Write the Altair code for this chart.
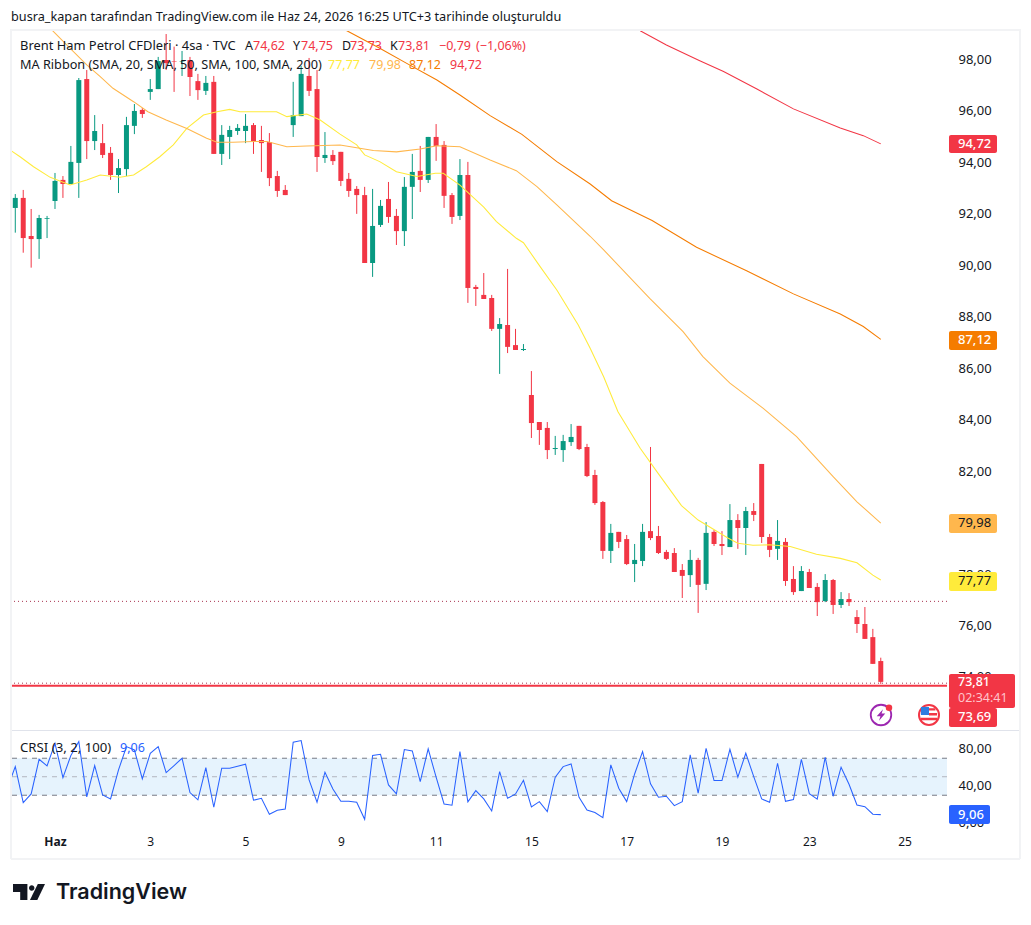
import altair as alt
import pandas as pd

FONT = "Noto Sans"
UP, DOWN = "#089981", "#F23645"
INK = "#131722"

opens = [92.23,92.62,91.14,91.02,91.81,92.50,93.32,93.16,93.98,97.24,94.83,94.75,94.37,93.51,93.74,95.42,96.04,96.74,96.85,97.98,
 97.94,97.92,97.98,97.16,96.78,97.13,94.33,94.99,95.22,95.22,95.45,94.87,94.79,93.47,92.93,95.45,95.80,97.36,96.85,94.17,
 94.29,94.41,93.36,92.97,92.73,90.09,91.57,92.58,91.92,91.33,93.05,93.67,93.32,94.99,94.68,92.73,91.92,93.51,89.16,88.85,
 88.73,87.53,87.68,86.90,86.71,84.96,83.91,83.68,82.86,82.82,83.13,83.76,82.94,81.85,80.80,78.90,79.64,79.36,78.39,78.51,
 79.67,79.48,78.86,78.82,78.16,77.96,78.55,77.62,79.64,79.17,79.05,80.10,79.79,80.45,82.28,79.44,78.98,79.25,77.81,77.34,
 78.08,77.50,76.95,77.77,76.80,77.03,76.33,76.06,75.55,74.62]
highs = [92.77,92.93,92.19,91.96,91.92,93.59,93.47,94.64,97.28,97.59,95.84,95.49,94.60,94.13,95.77,96.27,96.11,97.24,98.10,98.99,
 98.50,98.33,98.10,97.44,97.36,97.36,95.45,95.42,95.49,95.88,95.53,95.42,95.14,93.67,93.12,97.13,97.75,98.06,97.59,95.18,
 94.48,94.41,93.59,93.08,93.05,92.97,92.54,93.24,92.19,93.43,94.33,94.64,94.99,95.49,94.83,92.81,94.13,94.02,89.24,89.70,
 88.85,87.95,89.86,87.53,86.94,85.89,83.91,83.91,83.37,83.41,83.83,83.76,83.06,82.05,80.84,79.95,79.64,79.52,79.17,79.95,
 82.94,79.87,78.94,79.01,78.39,78.94,78.63,80.02,79.71,79.67,80.72,80.33,80.61,80.76,82.28,79.56,80.10,79.40,78.31,78.31,
 78.20,77.65,78.00,77.81,77.30,77.26,76.60,76.72,75.87,74.75]
lows = [91.27,90.49,89.91,90.25,91.06,92.19,92.62,93.16,92.62,94.13,94.48,94.17,93.32,92.81,93.47,95.10,95.73,96.43,96.85,97.59,
 96.74,97.36,96.58,96.43,96.62,94.33,93.90,94.13,95.07,94.75,94.33,93.63,93.08,92.66,92.73,94.99,95.80,96.58,93.63,93.98,
 93.90,93.08,92.66,92.00,90.09,89.55,91.49,91.65,90.79,90.75,91.80,92.85,93.20,94.06,92.23,91.61,91.76,88.54,88.42,88.69,
 87.45,85.78,86.59,86.71,86.67,83.29,83.02,82.47,82.63,82.36,82.98,82.82,81.77,80.69,78.59,78.43,79.01,78.35,77.69,78.31,
 79.32,78.78,78.55,78.08,77.07,77.50,76.49,77.38,79.09,78.74,79.05,78.98,78.74,80.06,79.21,78.66,78.55,77.54,77.19,77.34,
 77.46,76.37,76.91,76.45,76.68,76.76,75.71,75.48,74.51,73.73]
closes = [92.62,91.06,91.02,91.84,91.84,93.28,93.16,94.02,97.20,94.83,95.22,94.29,93.51,93.78,95.45,96.00,95.88,96.85,97.94,97.86,
 97.92,97.94,97.32,96.81,97.09,94.33,95.07,95.26,95.34,95.42,94.83,94.75,93.39,92.89,92.73,95.84,97.44,96.78,94.21,94.29,
 94.05,93.28,92.89,92.73,90.09,91.53,92.31,91.88,91.33,93.05,93.63,93.32,94.99,94.64,92.70,91.88,93.51,89.12,89.08,88.69,
 87.53,87.72,86.83,86.71,86.75,83.87,83.60,82.82,82.90,83.17,83.33,82.86,81.81,80.76,78.90,79.60,79.25,78.39,78.55,79.64,
 79.40,78.82,78.59,78.08,77.93,78.55,77.58,79.60,79.17,79.09,80.10,79.79,80.45,80.30,79.44,78.94,79.29,77.73,77.30,78.12,
 77.46,76.91,77.77,76.80,77.03,76.91,76.06,75.48,74.51,73.81]

crsi = [61.0,22.1,31.4,68.9,61.7,86.2,49.1,72.9,88.0,28.2,62.1,30.4,26.0,57.4,82.6,79.0,47.6,75.4,82.6,54.5,
 62.1,70.0,32.9,25.0,59.9,17.0,59.2,59.2,61.3,63.5,24.6,26.7,9.5,13.8,15.2,87.3,89.1,46.6,22.4,54.9,
 36.8,23.5,23.5,22.4,4.0,72.9,74.3,41.2,31.4,79.4,77.9,44.8,80.1,49.5,20.6,19.2,77.2,22.8,35.0,26.0,
 13.0,55.6,26.7,31.4,46.2,17.4,23.1,12.3,49.5,61.0,63.9,27.8,14.1,11.3,5.8,62.8,37.6,23.1,53.0,77.2,
 42.3,27.8,28.9,18.8,23.1,73.6,32.2,80.8,45.9,45.9,79.7,49.5,75.4,50.2,26.0,22.4,64.6,23.5,25.3,68.9,
 31.8,25.7,71.1,28.9,60.3,41.9,19.5,17.7,9.5,9.06]
crsi_before = 37.5

sma20_i = [-0.45,0.6,2.3,4.4,6.9,9,10.7,13.2,14.9,16.5,18.2,19.9,21.6,23.7,25.4,27,28.3,30.8,32.9,34.2,36.7,38.4,40.9,43,44,45.9,48,50.6,52.9,53.9,56,59,60.6,63.1,64,66.1,68.2,70.9,72.4,74.1,75.9,78.7,80.8,83.9,86,89.8,91,92.9,95,97.6,100.9,103.9,106,108,109]
sma20_v = [94.44,94.22,93.83,93.42,93.12,93.32,93.51,93.42,93.51,93.83,94.22,94.68,95.32,95.84,95.97,96.06,95.97,95.97,95.97,95.78,95.88,95.65,95.10,94.68,94.29,94.03,93.64,93.45,93.58,93.58,93.12,92.26,91.70,91.05,90.88,89.95,89.04,87.68,86.78,85.67,84.31,82.89,81.98,80.66,80.10,79.39,79.20,79.12,79.14,79.07,78.77,78.61,78.44,77.96,77.77]
sma50_i = [4.6,6.5,9,10.7,12.3,14.9,16.7,19,21.6,24.1,25.4,27.4,30,31.7,34.2,36.7,40.9,45.1,48,51,53.1,56,59.8,63.1,65.7,68.2,72.4,74.1,79.9,84.1,86.6,90,94.2,98.4,103,106,109]
sma50_v = [99.15,98.56,97.79,97.33,96.88,96.36,95.97,95.65,95.32,94.94,94.78,94.78,94.81,94.81,94.61,94.64,94.68,94.46,94.41,94.52,94.65,94.61,94.09,93.68,93.06,92.35,91.13,90.60,88.72,87.42,86.45,85.42,84.44,83.34,81.79,80.81,79.98]
sma100_i = [41.7,45.9,49.3,53.1,56,59.8,63.8,68.2,72.4,75.1,80.2,85.8,92.1,98,103.9,106.8,109]
sma100_v = [99.13,98.44,97.85,97.20,96.62,95.82,95.09,94.03,93.16,92.51,91.74,90.70,89.79,88.89,88.11,87.62,87.12]
sma200_i = [78.7,82,86.2,89.2,93.4,98,103.9,106.8,109]
sma200_v = [99.12,98.56,97.95,97.53,96.85,96.08,95.34,95.04,94.72]

price_ticks = [98,96,94,92,90,88,86,84,82,80,78,76,74]
crsi_ticks = [80,40,0]
day_ticks = [5,17,29,41,53,65,77,89,100,112]
day_labels = ["Haz","3","5","9","11","15","17","19","23","25"]

prev_high_line = 76.94
close_line = 73.76
last_line = 73.66

df = pd.DataFrame({"i": range(len(opens)), "o": opens, "h": highs, "l": lows, "c": closes})
df["top"] = df[["o", "c"]].max(axis=1)
df["bot"] = df[["o", "c"]].min(axis=1)
df["dir"] = ["up" if c >= o else "down" for o, c in zip(opens, closes)]
crsi_df = pd.DataFrame({"i": [-1] + list(range(len(crsi))), "v": [crsi_before] + crsi})

W, H = 936, 800
xs = alt.Scale(domain=[-0.54, 117.34], range=[0, W], nice=False, padding=0)
ps = alt.Scale(domain=[71.94, 99.185], range=[701, 0], nice=False, zero=False)
cs = alt.Scale(domain=[-6.5, 99.46], range=[800, 702], nice=False, zero=False)
comma = "replace(format(datum.value,'.2f'),'.',',')"
x_axis = alt.Axis(
    values=day_ticks, orient="bottom", grid=False, ticks=False, domain=False, labelPadding=7, labelFont=FONT,
    labelFontSize=12, labelColor=INK, title=None, labelOverlap=False, labelFlush=False,
    labelFontWeight=alt.expr("datum.value==5?'bold':'normal'"),
    labelExpr=f"{day_labels}[indexof({day_ticks},datum.value)]")
price_axis = alt.Axis(values=price_ticks, orient="right", labelExpr=comma, grid=False, ticks=False, domain=False,
                      labelPadding=11, labelFont=FONT, labelFontSize=13, labelColor=INK, title=None)
crsi_axis = alt.Axis(values=crsi_ticks, orient="right", labelExpr=comma, grid=False, ticks=False, domain=False,
                     labelPadding=11, labelFont=FONT, labelFontSize=13, labelColor=INK, title=None)
X = alt.X("i:Q", scale=xs, axis=x_axis)
col = alt.Color("dir:N", scale=alt.Scale(domain=["up", "down"], range=[UP, DOWN]), legend=None)


def ma(ix, vals, color):
    d = pd.DataFrame({"i": ix, "v": vals})
    return alt.Chart(d).mark_line(color=color, strokeWidth=1.05).encode(
        x=X, y=alt.Y("v:Q", scale=ps, axis=price_axis))


def hline(v, color, width, dash=None, scale=ps, axis=price_axis):
    kw = {"strokeDash": dash} if dash else {}
    d = pd.DataFrame({"v": [v]})
    return alt.Chart(d).mark_rule(color=color, strokeWidth=width, **kw).encode(
        y=alt.Y("v:Q", scale=scale, axis=axis))


def txt(s, x, y, color=INK, size=12, align="left", weight="normal", font=FONT, opacity=1):
    return alt.Chart().mark_text(text=s, color=color, fontSize=size, align=align, baseline="middle",
                                 fontWeight=weight, font=font, opacity=opacity).encode(
        x=alt.value(x - 11), y=alt.value(y - 29))


def box(x0, x1, y0, y1, color, **kw):
    return alt.Chart().mark_rect(color=color, **kw).encode(
        x=alt.value(x0 - 11), x2=alt.value(x1 - 11), y=alt.value(y0 - 29), y2=alt.value(y1 - 29))


def seg(x0, y0, x1, y1, color, width):
    return alt.Chart().mark_rule(color=color, strokeWidth=width).encode(
        x=alt.value(x0 - 11), x2=alt.value(x1 - 11), y=alt.value(y0 - 29), y2=alt.value(y1 - 29))


def glyph(path, x, y, size, color=None, stroke=None, sw=1, fill=None):
    kw = {}
    if color:
        kw.update(filled=True, color=color, opacity=1)
    else:
        kw.update(filled=fill is not None, stroke=stroke, strokeWidth=sw, opacity=1)
        if fill:
            kw.update(fill=fill)
    return alt.Chart().mark_point(shape=path, size=size, **kw).encode(
        x=alt.value(x - 11), y=alt.value(y - 29))


# price pane
wicks = alt.Chart(df).mark_rule(strokeWidth=1).encode(
    x=X, y=alt.Y("h:Q", scale=ps, axis=price_axis), y2="l:Q", color=col)
bodies = alt.Chart(df).mark_bar(size=5, orient="vertical").encode(
    x=X, y=alt.Y("top:Q", scale=ps, axis=price_axis), y2="bot:Q", color=col)
price_group = alt.layer(
    hline(prev_high_line, "#a8324f", 1, [1, 3]),
    hline(close_line, "#a8324f", 1, [1, 3]),
    wicks, bodies,
    ma(sma20_i, sma20_v, "#FFEB3B"),
    ma(sma50_i, sma50_v, "#FFB74D"),
    ma(sma100_i, sma100_v, "#F57C00"),
    ma(sma200_i, sma200_v, "#F23645"),
    hline(last_line, DOWN, 2),
)

# CRSI pane
band = alt.Chart(pd.DataFrame({"a": [70], "b": [30]})).mark_rect(color="#E6F3FD").encode(
    y=alt.Y("a:Q", scale=cs, axis=crsi_axis), y2="b:Q")
crsi_line = alt.Chart(crsi_df).mark_line(color="#2962FF", strokeWidth=1.05, clip=True).encode(
    x=X, y=alt.Y("v:Q", scale=cs, axis=crsi_axis))
crsi_group = alt.layer(
    band,
    hline(70, "#787B86", 1, [5, 5], cs, crsi_axis),
    hline(50, "#B2B5BE", 1, [5, 5], cs, crsi_axis),
    hline(30, "#787B86", 1, [5, 5], cs, crsi_axis),
    crsi_line,
)

FRAME = "#F2F3F5"
furniture = [
    seg(11, 30, 1020, 30, FRAME, 2),
    seg(11, 29, 11, 859, FRAME, 2),
    seg(1020, 29, 1020, 859, FRAME, 2),
    seg(11, 859, 1020, 859, FRAME, 2),
    seg(12, 730.5, 1019, 730.5, "#E0E3EB", 1),
]

header = [
    txt("busra_kapan tarafından TradingView.com ile Haz 24, 2026 16:25 UTC+3 tarihinde oluşturuldu", 11, 17, size=12.7),
    txt("Brent Ham Petrol CFDleri · 4sa · TVC", 20, 46, size=12.9),
    txt("A", 245, 46, size=12.5), txt("74,62", 253, 46, DOWN, 12.5),
    txt("Y", 293, 46, size=12.5), txt("74,75", 301, 46, DOWN, 12.5),
    txt("D", 342, 46, size=12.5), txt("73,73", 350, 46, DOWN, 12.5),
    txt("K", 390, 46, size=12.5), txt("73,81", 398, 46, DOWN, 12.5),
    txt("−0,79", 439, 46, DOWN, 12.5), txt("(−1,06%)", 476, 46, DOWN, 12.5),
    txt("MA Ribbon (SMA, 20, SMA, 50, SMA, 100, SMA, 200)", 20, 65, size=12.7),
    txt("77,77", 328, 65, "#FFEB3B", 12.5), txt("79,98", 369, 65, "#FFB74D", 12.5),
    txt("87,12", 409, 65, "#F57C00", 12.5), txt("94,72", 450, 65, "#F23645", 12.5),
    txt("CRSI (3, 2, 100)", 20, 748, size=13.2), txt("9,06", 120, 748, "#2962FF", 12.5),
]

tags = [
    box(949, 997, 135, 153, "#F23645", cornerRadius=2), txt("94,72", 958, 144, "#FFFFFF", 13, weight=500),
    box(949, 997, 331, 350, "#F57C00", cornerRadius=2), txt("87,12", 958, 340, "#FFFFFF", 13, weight=500),
    box(949, 997, 514, 533, "#FFB74D", cornerRadius=2), txt("79,98", 958, 523, INK, 13),
    box(949, 997, 572, 591, "#FFEB3B", cornerRadius=2), txt("77,77", 958, 581, INK, 13),
    box(949, 1015, 674, 708, "#F23645", cornerRadius=2), txt("73,81", 958, 682, "#FFFFFF", 12.5, weight=500),
    txt("02:34:41", 958, 698, "#FFC4CB", 12.5),
    box(949, 997, 708, 727, "#F23645", cornerRadius=2), txt("73,69", 958, 717, "#FFFFFF", 13, weight=500),
    box(949, 990, 805, 824, "#2962FF", cornerRadius=2), txt("9,06", 958, 814.5, "#FFFFFF", 13, weight=500),
]

CIRCLE = "circle"
BOLT = "M.35 -1L-.75 .2H-.1L-.35 1L.75 -.25H.1Z"
CANTON = "M-1 -1H0V0H-1Z"
STRIPES = "M0 -.85H.8V-.55H0ZM0 -.25H1V.05H0ZM-1 .35H1V.65H-1Z"
LOGO_T = "M-1 -.5H-.1V.5H-.55V0H-1Z"
LOGO_D = "M0 -.25a.17 .17 0 1 0 .34 0a.17 .17 0 1 0 -.34 0Z"
LOGO_S = "M.55 -.5H1L.52 .5H.06Z"

icons = [
    glyph(CIRCLE, 881, 715, 420, stroke="#9C27B0", sw=1.8, fill="#FFFFFF"),
    glyph(BOLT, 881, 715, 130, color="#9C27B0"),
    glyph(CIRCLE, 889, 707.7, 42, color="#F23645"),
    glyph(CIRCLE, 929, 715, 400, stroke="#F23645", sw=2, fill="#FFFFFF"),
    glyph(STRIPES, 929, 715, 260, color="#F23645"),
    glyph(CANTON, 929, 715, 260, color="#2E7DE0"),
    glyph(LOGO_T, 29, 892, 1024, color=INK),
    glyph(LOGO_D, 29, 892, 1024, color=INK),
    glyph(LOGO_S, 29, 892, 1024, color=INK),
    txt("TradingView", 56, 892.5, INK, 21.5, weight=600, font="Inter"),
]

chart = alt.layer(price_group, crsi_group, *furniture, *header, *tags, *icons).resolve_scale(
    y="independent"
).properties(
    width=W, height=H,
    autosize=alt.AutoSizeParams(type="none"),
    padding={"left": 3, "top": 21, "right": 74, "bottom": 81},
    background="#FFFFFF",
).configure_view(stroke=None)

chart.save("out.html", embed_options={"renderer": "svg", "actions": False})
